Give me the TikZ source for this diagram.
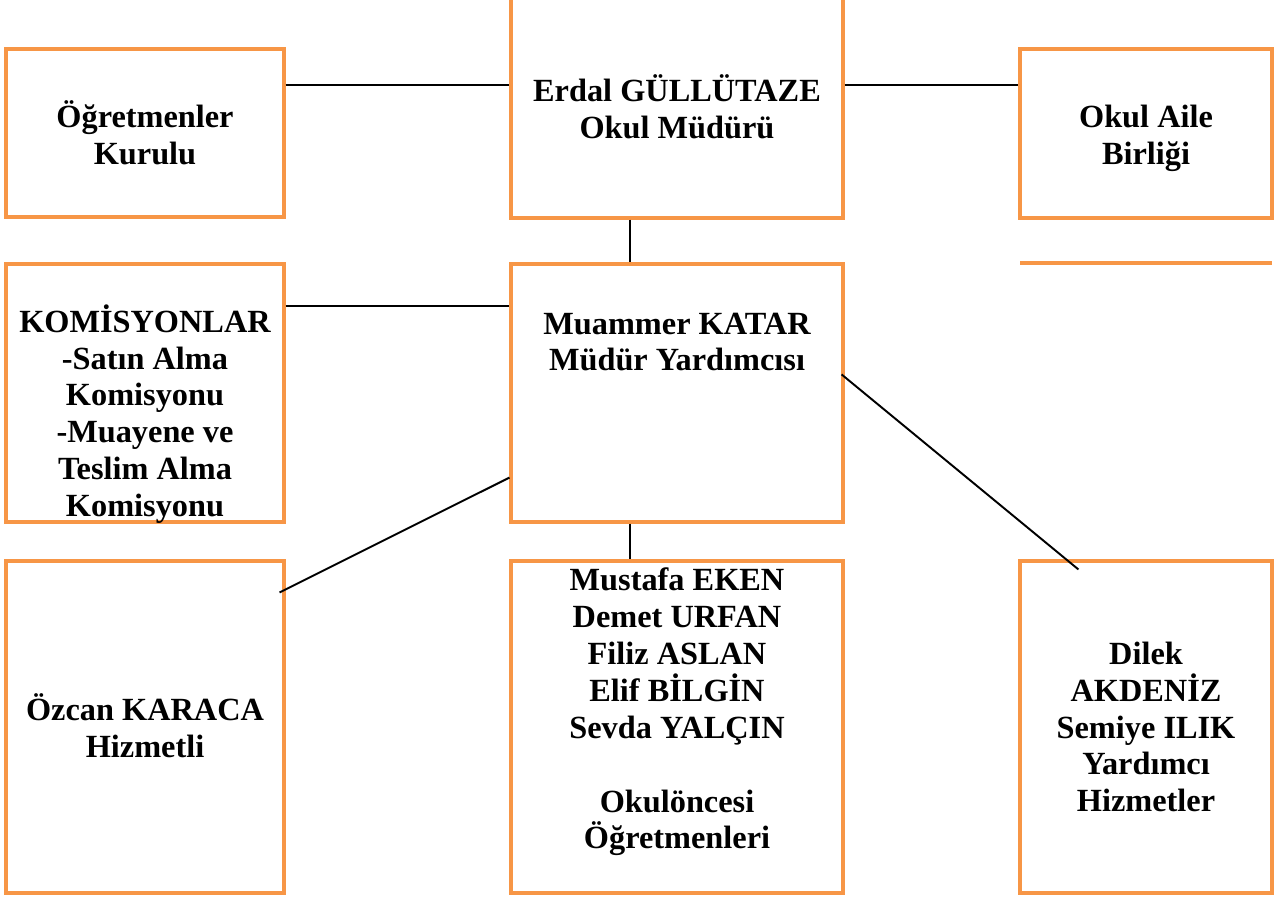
\documentclass[tikz,border=0pt]{standalone}
\usepackage{fontspec}
\setmainfont{Liberation Serif}
\usepackage{tikz}
\usetikzlibrary{positioning, calc}
\definecolor{boxOrange}{RGB}{247,150,70}

\begin{document}
\begin{tikzpicture}[
  x=0.02cm, y=-0.02cm,
  orgbox/.style={draw=boxOrange, line width=1.8pt, inner sep=0pt},
  txt/.style={font=\fontsize{18.4}{21}\selectfont\bfseries, align=center, inner sep=0pt},
  link/.style={line width=1.1pt},
]
  \useasboundingbox (0,0) rectangle (1274,896);
  \clip (0,0) rectangle (1274,896);

  \node[orgbox, minimum width=5.56cm, minimum height=3.36cm] (kurul) at (145,133) {};
  \node[orgbox, minimum width=6.64cm, minimum height=4.40cm] (mudur) at (677,108) {};
  \node[orgbox, minimum width=5.04cm, minimum height=3.38cm] (aile) at (1146,133.5) {};
  \node[orgbox, minimum width=5.56cm, minimum height=5.16cm] (komisyon) at (145,393) {};
  \node[orgbox, minimum width=6.64cm, minimum height=5.16cm] (yardimci) at (677,393) {};
  \node[orgbox, minimum width=5.56cm, minimum height=6.64cm] (hizmetli) at (145,727) {};
  \node[orgbox, minimum width=6.64cm, minimum height=6.64cm] (ogretmen) at (677,727) {};
  \node[orgbox, minimum width=5.04cm, minimum height=6.64cm] (yrdHizmet) at (1146,727) {};
  \coordinate (bosSol) at (1020,263);
  \coordinate (bosSag) at (1272,263);
  \draw[draw=boxOrange, line width=1.8pt] (bosSol) -- (bosSag);

  \node[txt] (kurulTxt) at (kurul.center) {Öğretmenler\\Kurulu};
  \node[txt] (mudurTxt) at ([yshift=0.02cm]mudur.center) {Erdal GÜLLÜTAZE\\Okul Müdürü};
  \node[txt] (aileTxt) at ([yshift=-0.1cm]aile.center) {Okul Aile\\Birliği};
  \node[txt] (komisyonTxt) at ([yshift=-0.42cm]komisyon.center)
    {KOMİSYONLAR\\-Satın Alma\\Komisyonu\\-Muayene ve\\Teslim Alma\\Komisyonu};
  \node[txt] (yardimciTxt) at ([yshift=1.02cm]yardimci.center) {Muammer KATAR\\Müdür Yardımcısı};
  \node[txt] (hizmetliTxt) at ([yshift=0.03cm]hizmetli.center) {Özcan KARACA\\Hizmetli};
  \node[txt] (ogretmenTxt) at ([yshift=0.3cm]ogretmen.center)
    {Mustafa EKEN\\Demet URFAN\\Filiz ASLAN\\Elif BİLGİN\\Sevda YALÇIN\\[21pt]Okulöncesi\\Öğretmenleri};
  \node[txt] (yrdHizmetTxt) at (yrdHizmet.center) {Dilek\\AKDENİZ\\Semiye ILIK\\Yardımcı\\Hizmetler};

  \draw[link] ([yshift=-0.76cm]kurul.north east) -- ([yshift=-0.76cm]kurul.north east -| mudur.west);
  \draw[link] ([yshift=-0.76cm]aile.north west -| mudur.east) -- ([yshift=-0.76cm]aile.north west);
  \draw[link] ([xshift=-0.94cm]mudur.south) -- ([xshift=-0.94cm]yardimci.north);
  \draw[link] ([yshift=-0.88cm]komisyon.north east) -- ([yshift=-0.88cm]komisyon.north east -| yardimci.west);
  \draw[link] ([yshift=0.92cm]yardimci.south west) -- ([xshift=-0.12cm,yshift=-0.66cm]hizmetli.north east);
  \draw[link] ([xshift=-0.06cm,yshift=-2.24cm]yardimci.north east) -- ([xshift=1.2cm,yshift=-0.2cm]yrdHizmet.north west);
  \draw[link] ([xshift=-0.94cm]yardimci.south) -- ([xshift=-0.94cm]ogretmen.north);
\end{tikzpicture}
\end{document}
